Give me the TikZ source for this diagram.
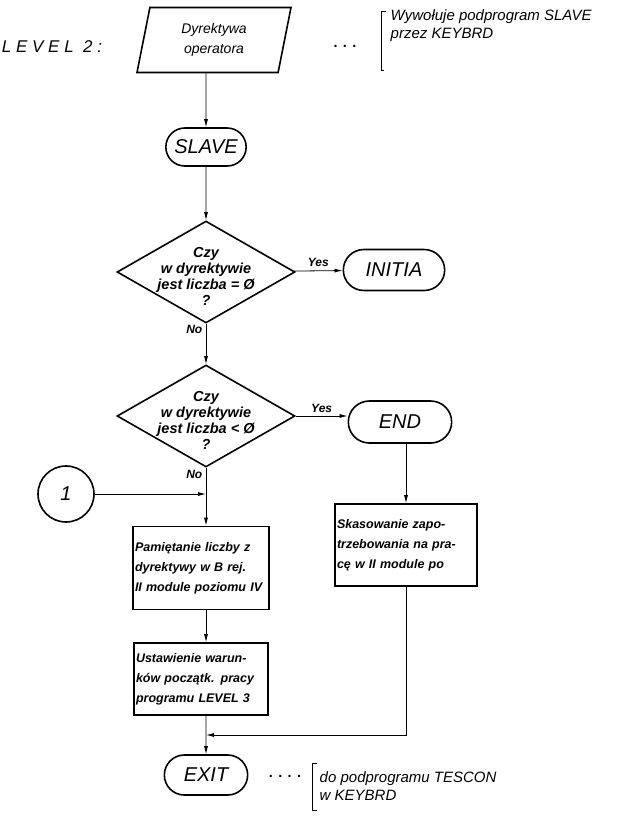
\documentclass[tikz,border=0pt]{standalone}
\usepackage{fontspec}
\setmainfont{Liberation Sans}
\usetikzlibrary{shapes.geometric,shapes.misc,arrows.meta}

\begin{document}
\begin{tikzpicture}[x=1pt,y=-1pt,
  line width=0.8pt,
  arr/.style={-{Latex[length=8pt,width=4pt]}},
  term/.style={rounded rectangle, draw, line width=1.6pt, font=\itshape\fontsize{20}{24}\selectfont},
  box/.style={rectangle, draw, line width=1.6pt, align=left, inner sep=2pt, font=\bfseries\itshape\fontsize{12.5}{20}\selectfont},
  test/.style={diamond, draw, line width=1.6pt, inner sep=0pt, minimum width=178pt, minimum height=102pt},
  txt/.style={align=center, font=\bfseries\itshape\fontsize{14.5}{16}\selectfont},
  yn/.style={font=\bfseries\itshape\fontsize{12}{14}\selectfont},
  note/.style={align=left, anchor=west, font=\itshape\fontsize{15}{18}\selectfont}]
\useasboundingbox (0,0) rectangle (620,817);

% top
\node[font=\itshape\fontsize{17}{18}\selectfont] (lvl) at (52,47) {L E V E L\ \ 2 :};
\node[trapezium, trapezium left angle=72, trapezium right angle=108, trapezium stretches body,
  draw, line width=1.6pt, minimum width=154pt, minimum height=65pt, align=center,
  font=\itshape\fontsize{14}{20}\selectfont] (dyr) at (214,40) {Dyrektywa\\operatora};
\node[font=\bfseries\Large] (dots1) at (345,46) {. . .};
\draw (386,11) -- (381,11) -- (381,70) -- (384,70);
\node[note] (note1) at (387,26) {Wywołuje podprogram SLAVE\\przez KEYBRD};

\node[term, minimum width=87pt, minimum height=38pt] (slave) at (206,147) {SLAVE};

% tests
\node[test] (q1) at (206,272) {};
\node[txt] (q1t) at (206,276) {Czy\\w dyrektywie\\jest liczba = Ø\\?};
\node[term, minimum width=108pt, minimum height=41pt] (initia) at (394,270) {INITIA};
\node[test] (q2) at (206,416) {};
\node[txt] (q2t) at (206,420) {Czy\\w dyrektywie\\jest liczba < Ø\\?};
\node[term, minimum width=110pt, minimum height=42pt] (end) at (400,422) {END};

\node[circle, draw, line width=1.6pt, minimum size=56pt, font=\itshape\fontsize{20}{24}\selectfont] (c1) at (66,494) {1};
\coordinate (j1) at (206,494);

% boxes
\node[box, text width=132pt, minimum height=83pt] (mem) at (201,568)
  {Pamiętanie liczby z\\dyrektywy w B rej.\\II module poziomu IV};
\node[box, text width=138pt, minimum height=82pt] (kas) at (406,545)
  {Skasowanie zapo-\\trzebowania na pra-\\cę w II module po};
\node[box, text width=130pt, minimum height=72pt] (ust) at (201,679)
  {Ustawienie warun-\\ków początk. pracy\\programu LEVEL 3};
\coordinate (j2) at (206,735);

\node[term, minimum width=90pt, minimum height=40pt] (exit) at (206,775) {EXIT};
\node[font=\bfseries\Large] (dots2) at (285,776) {. . . .};
\draw (317,763) -- (312,763) -- (312,810) -- (317,810);
\node[note] (note2) at (316,786) {do podprogramu TESCON\\w KEYBRD};

% connectors
\draw[arr] (slave |- dyr.south) -- (slave);
\draw[arr] (slave) -- (q1);
\draw[arr] (q1) -- node[above, yn] {Yes} (initia);
\draw[arr] (q1) -- node[pos=0.15, left, yn] {No} (q2);
\draw[arr] (q2.east) -- node[above, yn] {Yes} (q2.east -| end.west);
\draw[arr] (q2) -- node[pos=0.12, left, yn] {No} (q2 |- mem.north);
\draw[arr] (c1) -- (j1);
\draw[arr] (end.south -| kas) -- (kas);
\draw[arr] (mem.south -| q2) -- (q2 |- ust.north);
\draw[arr] (ust.south -| q2) -- (exit);
\draw[arr] (kas) |- (j2);
\end{tikzpicture}
\end{document}
